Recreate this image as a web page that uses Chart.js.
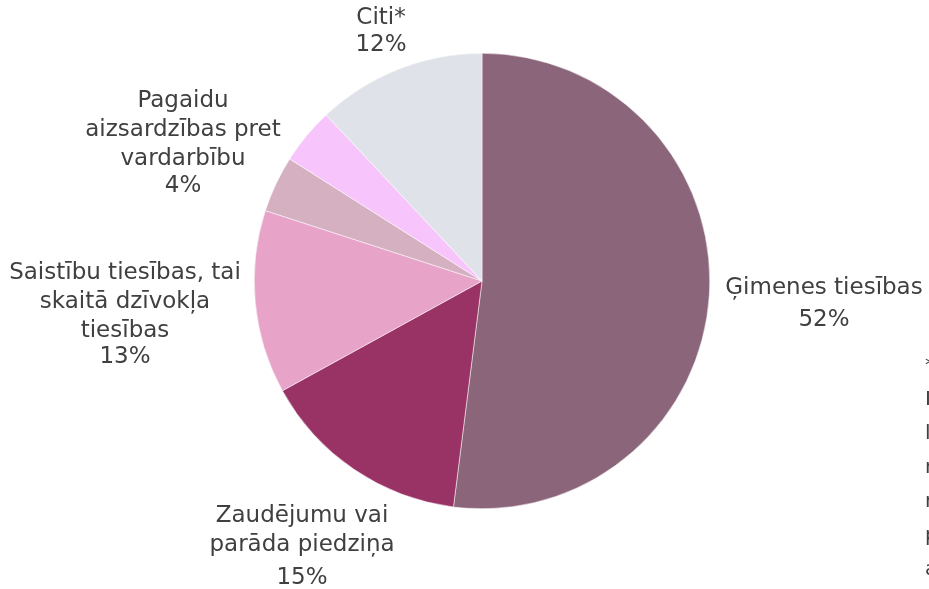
<!DOCTYPE html>
<html>
<head>
<meta charset="utf-8">
<script src="https://cdn.jsdelivr.net/npm/chart.js@4.4.0/dist/chart.umd.min.js"></script>
<style>
  html, body { margin: 0; padding: 0; background: #fff; }
  #wrap { width: 929px; height: 589px; position: relative; }
</style>
</head>
<body>
<div id="wrap"><canvas id="myChart"></canvas></div>
<script>
// Lietu sadalījums pēc kategorijām
const categories = [
  ['Ģimenes tiesības'],
  ['Zaudējumu vai', 'parāda piedziņa'],
  ['Saistību tiesības, tai', 'skaitā dzīvokļa', 'tiesības'],
  [],
  ['Pagaidu', 'aizsardzības pret', 'vardarbību'],
  ['Citi*']
];
const shares = [52, 15, 13, 4, 4, 12];
const percentLabels = ['52%', '15%', '13%', '', '4%', '12%'];
const colors = ['#8b667b', '#993366', '#e8a3c8', '#d4b0c1', '#f8c4fc', '#e0e2ea'];

// label layout: text centre x, first line centre y (relative to pie centre), gap before the % line
const labelOffsets = [[342, 7], [-180, 235], [-357, -8], null, [-299, -180], [-101, -263]];
const percentGap = [32, 33, 26, 0, 27, 27];

const footnoteLines = ['*', 'Iesniegumi', 'lietās', 'mantojuma', 'nekustamā', 'par', 'apgādnieka'];

const font = '"DejaVu Sans", sans-serif';
const fontSize = 23;
const lineH = 29;

const labelPlugin = {
  id: 'outerLabels',
  afterDraw(chart) {
    const c = chart.ctx;
    const arc = chart.getDatasetMeta(0).data[0];
    const cx = arc.x, cy = arc.y;
    c.save();
    c.fillStyle = '#404040';
    c.font = fontSize + 'px ' + font;
    c.textAlign = 'center';
    c.textBaseline = 'middle';
    categories.forEach((lines, i) => {
      const off = labelOffsets[i];
      if (!off) return;
      let y = cy + off[1];
      lines.forEach((t, j) => {
        c.fillText(t, cx + off[0], y);
        if (j < lines.length - 1) y += lineH;
      });
      y += percentGap[i];
      c.fillText(percentLabels[i], cx + off[0], y);
    });
    // footnote box, cut off by the right edge
    c.textAlign = 'left';
    c.font = '20px ' + font;
    footnoteLines.forEach((t, i) => {
      c.fillText(t, 925, 366 + i * 34);
    });
    c.restore();
  }
};

new Chart(document.getElementById('myChart'), {
  type: 'pie',
  data: {
    labels: categories.map(l => l.join(' ')),
    datasets: [{
      data: shares,
      backgroundColor: colors,
      borderColor: '#ffffff',
      borderWidth: 0.5
    }]
  },
  options: {
    responsive: true,
    maintainAspectRatio: false,
    animation: false,
    layout: { padding: { left: 254, right: 219, top: 53, bottom: 80 } },
    plugins: {
      legend: { display: false },
      tooltip: { enabled: false }
    }
  },
  plugins: [labelPlugin]
});
</script>
</body>
</html>
